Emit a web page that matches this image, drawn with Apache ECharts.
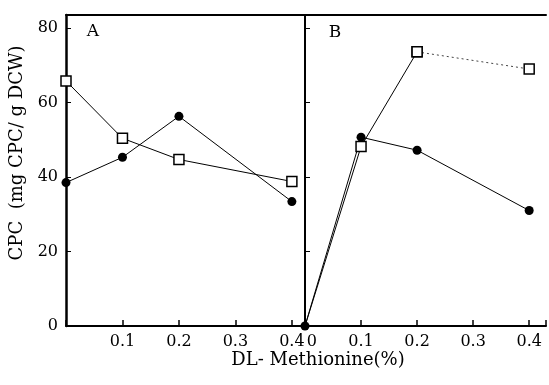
<!DOCTYPE html>
<html lang="en">
	<head>
		<meta charset="UTF-8" />
		<title>CPC vs DL-Methionine</title>
		<style>
			* {
				box-sizing: border-box;
				margin: 0;
				padding: 0;
			}

			body {
				background-color: #fff;
			}

			.container {
				width: 549px;
				height: 385px;
			}
		</style>
	</head>
	<body>
		<div class="container" id="chart"></div>
		<script src="https://cdn.jsdelivr.net/npm/echarts@6/dist/echarts.min.js"></script>
		<script>
			// 数据 (mg CPC / g DCW)
			var doseA = [0, 0.1, 0.2, 0.4]
			var circleA = [38.5, 45.3, 56.3, 33.4]
			var squareA = [65.8, 50.4, 44.7, 38.8]
			var doseB = [0, 0.1, 0.2, 0.4]
			var circleB = [0, 50.7, 47.2, 31]
			var squareB = [0, 48.2, 73.6, 69]
			var yTicks = [0, 20, 40, 60, 80]

			var FONT = 'DejaVu Serif'

			function pairs(xs, ys) {
				return xs.map(function (x, i) {
					return [x, ys[i]]
				})
			}

			function xLabel(showZero) {
				return function (v) {
					var r = Math.round(v * 10) / 10
					if (Math.abs(r - v) > 1e-6) return ''
					// B 图的 0 稍微右移, 避免和 A 图的 0.4 挤在一起
					if (r === 0) return showZero ? '{z|0}' : ''
					return r.toFixed(1)
				}
			}

			function yLabel(v) {
				return yTicks.indexOf(v) >= 0 ? String(v) : ''
			}

			var bottomAxis = {
				type: 'value',
				min: 0,
				interval: 0.1,
				axisLine: { lineStyle: { color: '#000', width: 2 } },
				axisTick: { inside: true, length: 6, lineStyle: { color: '#000', width: 1.5 } },
				splitLine: { show: false },
				axisLabel: {
					color: '#000',
					fontFamily: FONT,
					fontSize: 16,
					margin: 8,
					rich: {
						z: { fontFamily: FONT, fontSize: 16, color: '#000', width: 24, align: 'right' }
					}
				}
			}

			var topAxis = {
				type: 'value',
				position: 'top',
				min: 0,
				axisLine: { lineStyle: { color: '#000', width: 2 } },
				axisTick: { show: false },
				axisLabel: { show: false },
				splitLine: { show: false }
			}

			var leftAxis = {
				type: 'value',
				min: 0,
				max: 83.5,
				interval: 20,
				axisLine: { show: true, lineStyle: { color: '#000', width: 2.5 } },
				axisTick: { show: true, inside: true, length: 5, lineStyle: { color: '#000', width: 1 } },
				splitLine: { show: false }
			}

			var chart = echarts.init(document.getElementById('chart'))
			chart.setOption({
				animation: false,
				grid: [
					{ left: 66, right: 243, top: 15, bottom: 59 },
					{ left: 305, right: 1, top: 15, bottom: 59 }
				],
				xAxis: [
					Object.assign({}, bottomAxis, {
						gridIndex: 0,
						max: 0.425,
						axisLabel: Object.assign({}, bottomAxis.axisLabel, { formatter: xLabel(false) })
					}),
					Object.assign({}, bottomAxis, {
						gridIndex: 1,
						max: 0.43,
						axisLabel: Object.assign({}, bottomAxis.axisLabel, { formatter: xLabel(true) })
					}),
					Object.assign({}, topAxis, { gridIndex: 0, max: 0.425 }),
					Object.assign({}, topAxis, { gridIndex: 1, max: 0.43 })
				],
				yAxis: [
					Object.assign({}, leftAxis, {
						gridIndex: 0,
						axisLabel: { color: '#000', fontFamily: FONT, fontSize: 16, margin: 8, formatter: yLabel }
					}),
					Object.assign({}, leftAxis, {
						gridIndex: 1,
						axisLine: { show: true, lineStyle: { color: '#000', width: 2 } },
						axisLabel: { show: false }
					})
				],
				graphic: [
					{
						type: 'text',
						x: 17,
						y: 153,
						rotation: Math.PI / 2,
						style: {
							text: 'CPC  (mg CPC/ g DCW)',
							fontFamily: FONT,
							fontSize: 18,
							fill: '#000',
							align: 'center',
							verticalAlign: 'middle'
						}
					},
					{
						type: 'text',
						x: 318,
						y: 360,
						style: {
							text: 'DL- Methionine(%)',
							fontFamily: FONT,
							fontSize: 18,
							fill: '#000',
							align: 'center',
							verticalAlign: 'middle'
						}
					},
					{
						type: 'text',
						x: 93,
						y: 32,
						style: { text: 'A', fontFamily: FONT, fontSize: 17, fill: '#000', align: 'center', verticalAlign: 'middle' }
					},
					{
						type: 'text',
						x: 335,
						y: 33,
						style: { text: 'B', fontFamily: FONT, fontSize: 17, fill: '#000', align: 'center', verticalAlign: 'middle' }
					}
				],
				series: [
					{
						type: 'line',
						xAxisIndex: 0,
						yAxisIndex: 0,
						data: pairs(doseA, squareA),
						symbol: 'rect',
						symbolSize: 10,
						clip: false,
						lineStyle: { color: '#000', width: 1 },
						itemStyle: { color: '#fff', borderColor: '#000', borderWidth: 1.5 }
					},
					{
						type: 'line',
						xAxisIndex: 0,
						yAxisIndex: 0,
						data: pairs(doseA, circleA),
						symbol: 'circle',
						symbolSize: 9,
						clip: false,
						lineStyle: { color: '#000', width: 1 },
						itemStyle: { color: '#000' }
					},
					{
						// 0 -> 0.2 实线
						type: 'line',
						xAxisIndex: 1,
						yAxisIndex: 1,
						data: pairs(doseB, squareB).slice(0, 3).map(function (p) {
							return { value: p, symbol: p[0] === 0 ? 'none' : 'rect' }
						}),
						symbol: 'rect',
						symbolSize: 10,
						clip: false,
						lineStyle: { color: '#000', width: 1 },
						itemStyle: { color: '#fff', borderColor: '#000', borderWidth: 1.5 }
					},
					{
						// 0.2 -> 0.4 点线
						type: 'line',
						xAxisIndex: 1,
						yAxisIndex: 1,
						data: pairs(doseB, squareB).slice(2),
						symbol: 'rect',
						symbolSize: 10,
						clip: false,
						lineStyle: { color: '#444', width: 1, type: [2, 3] },
						itemStyle: { color: '#fff', borderColor: '#000', borderWidth: 1.5 }
					},
					{
						type: 'line',
						xAxisIndex: 1,
						yAxisIndex: 1,
						data: pairs(doseB, circleB),
						symbol: 'circle',
						symbolSize: 9,
						clip: false,
						lineStyle: { color: '#000', width: 1 },
						itemStyle: { color: '#000' }
					}
				]
			})
		</script>
	</body>
</html>
